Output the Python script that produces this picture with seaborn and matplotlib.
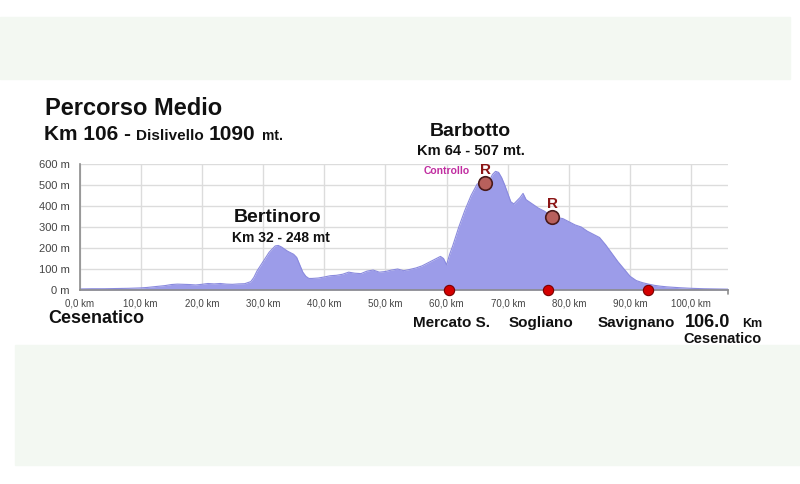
import matplotlib.pyplot as plt
import matplotlib.patches as mpatches
import pandas as pd
import seaborn as sns

# elevation profile (km, metres)
km = [0, 2, 4, 6, 8, 10, 11, 12, 13, 14, 15, 16, 17, 18, 19, 20, 21, 22, 23, 24,
      25, 26, 27, 28, 28.5, 29, 30, 31, 32, 32.5, 33, 34, 35, 35.5, 36, 36.5, 37,
      37.5, 38, 39, 40, 41, 42, 43, 44, 45, 46, 47, 48, 49, 50, 51, 52, 53, 54,
      55, 56, 57, 58, 59, 59.5, 60, 60.5, 61, 62, 63, 64, 65, 66, 67, 67.5, 68,
      68.5, 69, 69.5, 70, 70.5, 71, 72, 72.5, 73, 74, 75, 76, 77, 78, 79, 80, 81,
      82, 83, 84, 85, 86, 87, 88, 89, 90, 91, 92, 93, 94, 95, 96, 98, 100, 102,
      104, 106]
elev = [5, 6, 6, 7, 8, 10, 12, 15, 18, 21, 26, 28, 27, 26, 24, 27, 31, 29, 31, 28,
        27, 29, 30, 40, 60, 90, 135, 180, 210, 212, 205, 185, 170, 155, 120, 85, 65,
        55, 55, 57, 62, 68, 70, 75, 85, 80, 78, 90, 95, 85, 88, 95, 100, 92, 98,
        105, 115, 130, 145, 160, 150, 120, 170, 210, 300, 380, 450, 505, 510, 520, 550, 565,
        560, 535, 500, 460, 420, 410, 440, 460, 430, 410, 390, 375, 355, 345, 340, 325, 310,
        300, 280, 265, 250, 215, 175, 135, 100, 65, 45, 35, 28, 22, 18, 15, 11, 8, 6,
        5, 4]

# towns on the route (red dots on the axis)
town_names = ["Mercato S.", "Sogliano", "Savignano"]
town_km = [60.4, 76.6, 92.9]
town_elev = [0, 0, 0]

# refreshment points "R"
rest_km = [66.3, 77.3]
rest_elev = [510, 348]

x_ticks = [0, 10, 20, 30, 40, 50, 60, 70, 80, 90, 100]
y_ticks = [0, 100, 200, 300, 400, 500, 600]

sns.set_style("white")
plt.rcParams["font.family"] = ["Liberation Sans", "DejaVu Sans"]

profile = pd.DataFrame({"km": km, "elev": elev})
towns = pd.DataFrame({"km": town_km, "elev": town_elev})
rests = pd.DataFrame({"km": rest_km, "elev": rest_elev})

fig = plt.figure(figsize=(8, 4.84), dpi=100)
W, H = 800, 484
INK = "#111111"


def fx(px):
    return px / W


def fy(py):
    return 1 - py / H


# pale green bands of the page background
fig.patches.append(mpatches.Rectangle((fx(0), fy(79)), fx(790), (79 - 17) / H,
                                      transform=fig.transFigure, color="#f3f8f2", zorder=0))
fig.patches.append(mpatches.Rectangle((fx(15), fy(465)), fx(785), (465 - 345) / H,
                                      transform=fig.transFigure, color="#f3f8f2", zorder=0))

ax = fig.add_axes([fx(79.5), fy(290), fx(728 - 79.5), (290 - 164) / H])
ax.set_facecolor("none")

ax.fill_between(profile["km"], profile["elev"], 0, color="#9c9ce9", lw=0, zorder=2)
sns.lineplot(data=profile, x="km", y="elev", color="#8a8ade", lw=0.8, ax=ax, zorder=3)

sns.scatterplot(data=towns, x="km", y="elev", color="#d40000", edgecolor="#7a0000",
                s=55, linewidth=0.8, ax=ax, zorder=6, clip_on=False)
sns.scatterplot(data=rests, x="km", y="elev", color="#b8605c", edgecolor="#4a1a1a",
                s=95, linewidth=1.2, ax=ax, zorder=6, clip_on=False)
for k, e in zip(rest_km, rest_elev):
    ax.text(k, e + 42, "R", color="#8b1515", fontsize=11, fontweight="bold",
            ha="center", va="baseline", zorder=7)

ax.set_xlim(0, 106)
ax.set_ylim(0, 600)
ax.set_xticks(x_ticks)
ax.set_xticklabels([f"{t:.1f} km".replace(".", ",") for t in x_ticks])
ax.set_yticks(y_ticks)
ax.set_yticklabels([f"{t} m" for t in y_ticks])
ax.set_xlabel("")
ax.set_ylabel("")
ax.grid(True, color="#dcdcdc", lw=1, zorder=0)
ax.set_axisbelow(True)
for s in ["top", "right"]:
    ax.spines[s].set_visible(False)
for s in ["left", "bottom"]:
    ax.spines[s].set_color("#8c8c8c")
    ax.spines[s].set_linewidth(1.2)
    ax.spines[s].set_zorder(5)
ax.tick_params(axis="y", length=5, color="#8c8c8c", labelsize=8, labelcolor="#444444", pad=2)
ax.tick_params(axis="x", length=0, labelsize=7, labelcolor="#444444", pad=6)
ax.plot([106, 106], [0, -20], color="#8c8c8c", lw=1.2, clip_on=False)

# headings
fig.text(fx(45), fy(115), "Percorso Medio", fontsize=17, fontweight="bold", color=INK)
fig.text(fx(44), fy(140), "Km 106 -", fontsize=15, fontweight="bold", color=INK)
fig.text(fx(136), fy(140), "Dislivello", fontsize=11, fontweight="bold", color=INK)
fig.text(fx(209), fy(140), "1090", fontsize=15, fontweight="bold", color=INK)
fig.text(fx(262), fy(140), "mt.", fontsize=10, fontweight="bold", color=INK)

# climbs
fig.text(fx(278), fy(222), "Bertinoro", fontsize=14, fontweight="bold", ha="center", color=INK)
fig.text(fx(281), fy(242), "Km 32 - 248 mt", fontsize=10, fontweight="bold", ha="center",
         color=INK)
fig.text(fx(470), fy(136), "Barbotto", fontsize=14, fontweight="bold", ha="center", color=INK)
fig.text(fx(471), fy(155), "Km 64 - 507 mt.", fontsize=10.5, fontweight="bold", ha="center",
         color=INK)
fig.text(fx(447), fy(174), "Controllo", fontsize=7.5, fontweight="bold",
         color="#c02ca0", ha="center")

# places along the route
fig.text(fx(48), fy(323), "Cesenatico", fontsize=13, fontweight="bold", color=INK)
for name, k in zip(town_names, [452, 541, 636]):
    fig.text(fx(k), fy(327), name, fontsize=11, fontweight="bold", ha="center", color=INK)
fig.text(fx(685), fy(327), "106.0", fontsize=13, fontweight="bold", color=INK)
fig.text(fx(742), fy(327), "Km", fontsize=9, fontweight="bold", color=INK)
fig.text(fx(723), fy(343), "Cesenatico", fontsize=10.5, fontweight="bold", ha="center",
         color=INK)

fig.savefig("out.png", dpi=100, facecolor="white")
